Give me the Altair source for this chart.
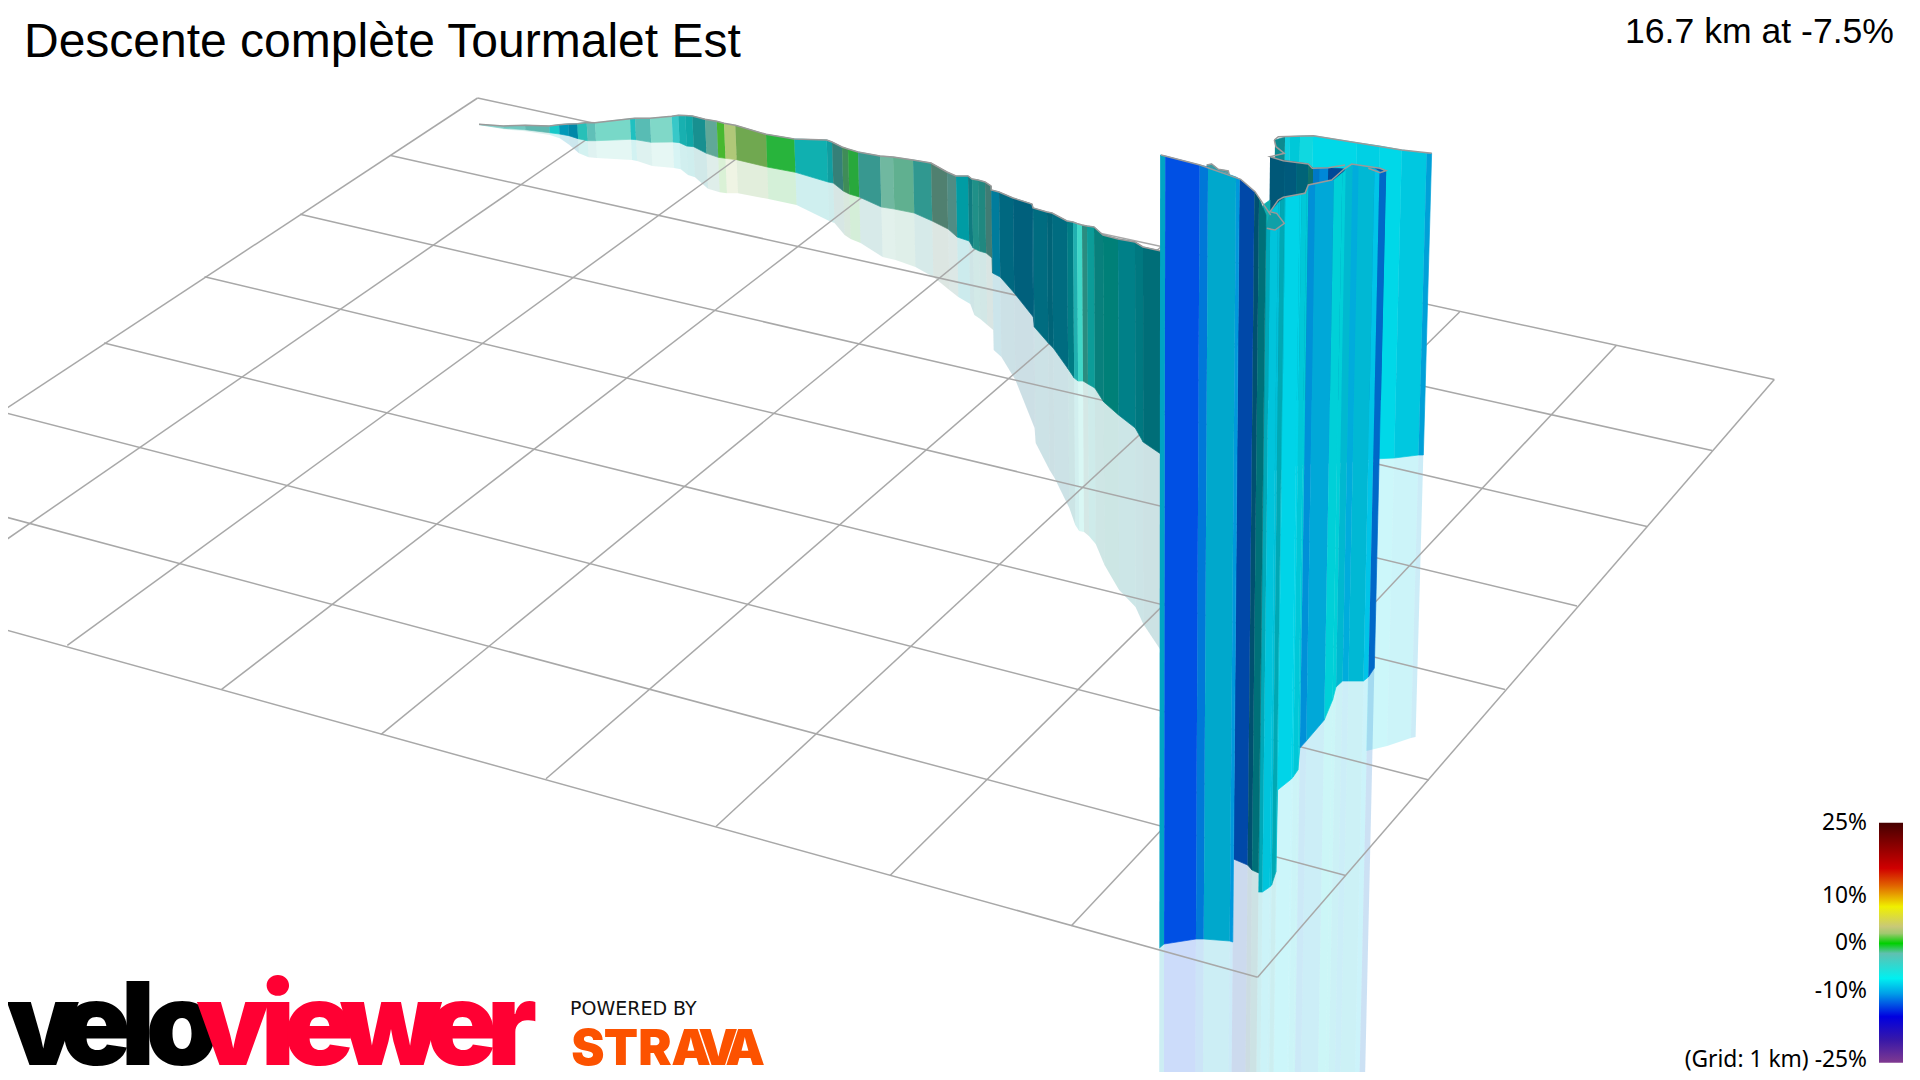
import altair as alt
import pandas as pd

# screen-space readings (px in the 1920x1080 frame)
GRID_X1 = [477.6, 390.6, 300, 204.5, 104, 0, 0, 0, 477.6, 606, 67.3, 221.6, 380.8, 546, 716, 890, 1071.4, 1257.6]
GRID_Y1 = [98, 155.5, 214.3, 276.7, 342.9, 411.4, 515.5, 628.2, 98, 126, 645.3, 689.4, 734.7, 778.8, 826.5, 875.5, 925.7, 977.2]
GRID_X2 = [1774.3, 1712, 1647, 1577, 1505, 1429, 1345.7, 1257.6, 0, 0, 741, 878, 1016, 1162, 1309, 1459.6, 1616.5, 1774.3]
GRID_Y2 = [379.6, 450.6, 526.5, 606, 689.4, 780, 875.5, 977.2, 412.6, 544, 155.5, 185, 215.5, 246, 278, 312, 345.3, 379.6]

FAR_X = [479, 503.3, 525, 549.3, 559, 568.3, 577.3, 586.7, 595, 630, 635, 650, 671.7, 678.3, 685.3, 692.3, 705, 716.7, 724, 735.3, 766, 794.3,
         826.7, 832, 842, 848, 858, 880, 893, 913, 931, 947, 956, 968, 972, 978, 985, 991, 991.2, 999, 1013, 1032, 1033, 1047, 1052, 1067, 1073, 1077, 1082, 1087, 1094, 1103, 1118, 1135, 1143, 1161]
FAR_TOP = [124.3, 126, 125.3, 126, 124.7, 124, 123.7, 122.5, 122.7, 118.7, 118.3, 118.3, 116.3, 115.3, 115.5, 116, 119.3, 121.3, 123.3, 125.3, 134.3, 139,
           140, 142, 147, 149, 152, 156, 157, 160, 163, 172, 176, 176, 179, 180, 182, 186, 190, 192, 198, 204, 208, 212, 213, 221, 222, 223.5, 225, 226, 227, 235, 239, 242, 247, 251]
FAR_BOT = [124.7, 128.3, 129.7, 132.7, 134, 135.7, 138.7, 140.7, 140.7, 139.3, 139.7, 142.3, 142, 142.7, 146, 146.7, 153.3, 157.3, 158.3, 159.7, 167, 172.3,
           182, 183, 191, 194, 197, 207, 209, 213, 221, 229, 237, 241, 248, 251, 253, 258, 273, 277, 293, 317, 327, 343, 348, 369, 378, 381, 381, 384, 388, 402, 415, 428, 442, 454]
FAR_REF = [124.7, 129.3, 131.3, 135, 138.3, 145, 153.3, 157.3, 158, 160, 161, 166, 168, 169.3, 175, 177.3, 188.7, 192.3, 193.3, 193.3, 199, 205,
           221, 223, 235, 239, 243, 257, 260, 267, 277, 290, 297, 304, 315, 319, 325, 330, 350, 357, 380, 428, 443, 470, 478, 508, 525, 531, 532, 536, 544, 565, 590, 607, 624, 650]
FAR_COL = ["#7fd0c8", "#70c8c0", "#5fb8b0", "#18c8c8", "#0098b8", "#0088a8", "#28c0b8", "#60c0b8", "#78d8c8", "#20c0c0", "#58bcb4", "#80d8c8", "#38c8c8", "#18b0b0", "#10a8a8", "#189090", "#60a898", "#48b830", "#b0c878", "#70a850", "#28b43c",
           "#10b0b0", "#109ea0", "#358078", "#3f8c58", "#28a83c", "#389890", "#70b8a0", "#60b090", "#309890", "#508070", "#508c84", "#009ca4", "#107c80", "#209088", "#208880", "#407c74", "#407c74",
           "#007c9c", "#006880", "#00607c", "#00607c", "#006c80", "#006478", "#006c80", "#007c84", "#20b0b0", "#40d8c8", "#2a8c80", "#0c9c98", "#08807c", "#008078", "#008088", "#007880", "#006e78"]

BACK_X = [1275, 1285, 1290, 1300, 1313, 1357, 1380, 1402, 1427, 1432]
BACK_TOP = [140, 137, 136.5, 136, 135.7, 142.7, 146, 150, 153.3, 153.3]
BACK_BOT = [470, 470, 468, 466, 464, 462, 459, 458, 455, 455]
BACK_COL = ["#0d8a90", "#10cfe0", "#00c8d8", "#10d8e0", "#00d8e8", "#00d0e4", "#00d8e8", "#00c8e0", "#00a0d8"]
# only the part of the back wall right of the middle wall shows a mirror image
BACK_MIRROR_X = [1380, 1402, 1427, 1432]
BACK_MIRROR_TOP = [146, 150, 153.3, 153.3]
BACK_MIRROR_BOT = [459, 458, 455, 455]
BACK_MIRROR_REF = [751, 746, 738, 737]
BACK_MIRROR_COL = ["#00d8e8", "#00c8e0", "#00a0d8"]

INNER_X = [1270, 1285, 1296.7, 1308.3, 1313.3, 1320, 1328.3, 1345, 1368, 1380, 1386]
INNER_TOP = [156.7, 160.7, 162.3, 164, 168.3, 168, 167.7, 169, 168.3, 168.3, 170.7]
INNER_BOT = [400, 400, 400, 400, 400, 400, 400, 400, 400, 400, 400]
INNER_COL = ["#005878", "#005a7c", "#006478", "#107068", "#0078c8", "#0088d8", "#004898", "#00b8d4", "#0058b0", "#0058b0"]

MID_X = [1265, 1269.3, 1277, 1279, 1283.3, 1284, 1298.3, 1300, 1305, 1306.7, 1313.3, 1331.7, 1340, 1343.3, 1350, 1356, 1371.7, 1376.7, 1382.7]
MID_TOP = [228.3, 212, 203, 201, 198, 197.5, 194.7, 194, 192, 185.7, 184, 180, 173, 170, 164.3, 165.3, 168.7, 171.7, 172.3]
MID_BOT = [892, 892, 887, 885, 872, 790, 779, 777, 770, 748, 741, 720, 700, 687, 681, 681, 681, 677, 668]
MID_COL = ["#00a8b8", "#00c4dc", "#00c0d8", "#00a8b4", "#00c0d0", "#00d4e8", "#00d4e8", "#00c8d8", "#00c8d8", "#0090d8", "#00a8d8", "#00d0d8", "#00d0d8", "#00b8d0", "#00acdc", "#00b8d4", "#00c4e8", "#0068c8"]

FRONT_X = [1160, 1165, 1199, 1207.3, 1235, 1238.3]
FRONT_TOP = [155, 156, 165, 167, 177, 179]
FRONT_BOT = [948, 944, 939, 939, 941, 942]
FRONT_COL = ["#00a4c4", "#0050e4", "#0078d8", "#00a8cc", "#0098dc"]
CORNER_X = [1238.3, 1253.3, 1258, 1265]
CORNER_TOP = [179, 192, 198, 215]
CORNER_BOT = [859, 865, 870, 873]
CORNER_COL = ["#0048a8", "#005070", "#007078"]

SMALL_X = [1263, 1270]
SMALL_TOP = [205, 200]
SMALL_BOT = [250, 250]
SMALL_COL = ["#10b0b0"]

HOOK_X = [1266, 1275, 1284.3, 1276.7, 1270]
HOOK_Y = [228.3, 230, 223.3, 213.3, 211.7]
HOOK_COL = "#0fa0a8"
BUMP_X = [1206.7, 1211.7, 1218.3, 1228.3, 1229, 1206.7]
BUMP_Y = [165, 164, 169.3, 171, 174, 168]
BUMP_COL = "#3a9aa0"

LINE_BACK_X = [1274.3, 1278.3, 1313.3, 1356.7, 1401.7, 1431.7]
LINE_BACK_Y = [140, 136.7, 135.7, 142.7, 150, 153.3]
LINE_INNER_X = [1274.3, 1276, 1284.3, 1270, 1283.3, 1308.3, 1312.3, 1328.3, 1345]
LINE_INNER_Y = [140, 146.7, 153.3, 156.7, 160.7, 164, 168.3, 167.7, 165]
LINE_MID_X = [1266.7, 1275, 1284.3, 1276.7, 1270, 1278.3, 1283.3, 1305, 1308.3, 1331.7, 1345, 1351.7, 1380, 1386, 1380, 1368.3]
LINE_MID_Y = [228.3, 230, 223.3, 213.3, 211.7, 200, 197.3, 193.3, 185, 180, 168.3, 164, 168.3, 170.7, 172.7, 168.3]
LINE_FRONT_X = [1161, 1200, 1240.7, 1255, 1265, 1270.7]
LINE_FRONT_Y = [155, 165, 179.3, 191.7, 206.7, 215]

LEGEND_STOPS = [68, 205, 255, 320, 380, 400, 430, 460, 535, 580, 650, 720, 788]
LEGEND_COLS = ["#450000", "#d00000", "#e06000", "#f0f000", "#c8c878", "#a0c870", "#00d000", "#60c0b0", "#00f0f0", "#00a0e8", "#0000e0", "#3818a8", "#803a90"]
LEGEND_TEXT = ["25%", "10%", "0%", "-10%", "(Grid: 1 km) -25%"]
LEGEND_Y = [823, 896, 943, 991, 1060]

TITLE = "Descente complète Tourmalet Est"
SUBTITLE = "16.7 km at -7.5%"

LOGO = list("veloviewer")
LOGO_X = [43, 96, 138, 182, 233, 278, 319, 391, 462, 512]
LOGO_COL = ["#000000"] * 4 + ["#ff0033"] * 6
STRAVA = list("STRAVA")
STRAVA_X = [588, 621, 655, 691, 718, 745]

LEAN = -9.75e-5
BOTTOM = 1095


def lean(x, y_from, y_to):
    return x + (x - 1150) * LEAN * (y_to - y_from)


polys_counter = [0]


def quad_rows(x0, y0a, y0b, x1, y1a, y1b, col, ref0, ref1):
    polys_counter[0] += 1
    pid = polys_counter[0]
    pts = [(lean(x0, ref0, y0a), y0a), (lean(x1, ref1, y1a), y1a), (lean(x1, ref1, y1b), y1b), (lean(x0, ref0, y0b), y0b)]
    return [{"px": p[0], "py": p[1], "pid": pid, "o": i, "col": col} for i, p in enumerate(pts)]


def ribbon(xs, tops, bots, cols, yref=None):
    rows = []
    for i, c in enumerate(cols):
        r0 = tops[i] if yref is None else yref
        r1 = tops[i + 1] if yref is None else yref
        rows += quad_rows(xs[i], tops[i], bots[i], xs[i + 1], tops[i + 1], bots[i + 1], c, r0, r1)
    return rows


def mirror(xs, tops, bots, refs, cols, yref=None):
    rows = []
    for i, c in enumerate(cols):
        r0 = tops[i] if yref is None else yref
        r1 = tops[i + 1] if yref is None else yref
        rows += quad_rows(xs[i], bots[i], refs[i], xs[i + 1], bots[i + 1], refs[i + 1], c, r0, r1)
    return rows


def polygon(xs, ys, col):
    polys_counter[0] += 1
    return [{"px": x, "py": y, "pid": polys_counter[0], "o": i, "col": col} for i, (x, y) in enumerate(zip(xs, ys))]


X = alt.X("px:Q", scale=alt.Scale(domain=[8, 1912], nice=False, zero=False), axis=None)
Y = alt.Y("py:Q", scale=alt.Scale(domain=[8, 1072], reverse=True, nice=False, zero=False), axis=None)


def wall_layer(rows):
    return alt.Chart(pd.DataFrame(rows)).mark_line(filled=True, strokeWidth=0.7, clip=True, interpolate="linear").encode(
        x=X, y=Y, order=alt.Order("o:Q"), detail="pid:N",
        fill=alt.Fill("col:N", scale=None, legend=None), stroke=alt.Stroke("col:N", scale=None, legend=None))


def mirror_layer(rows):
    return alt.Chart(pd.DataFrame(rows)).mark_line(filled=True, strokeWidth=0, fillOpacity=0.2, clip=True, interpolate="linear").encode(
        x=X, y=Y, order=alt.Order("o:Q"), detail="pid:N",
        fill=alt.Fill("col:N", scale=None, legend=None))


def outline(xs, ys):
    df = pd.DataFrame({"px": xs, "py": ys, "o": range(len(xs))})
    return alt.Chart(df).mark_line(color="#9a9a9a", strokeWidth=1.5, clip=True).encode(x=X, y=Y, order=alt.Order("o:Q"))


# mirrored parts, below the grid
mirror_rows = mirror(FAR_X, FAR_TOP, FAR_BOT, FAR_REF, FAR_COL)
mirror_rows += mirror(BACK_MIRROR_X, BACK_MIRROR_TOP, BACK_MIRROR_BOT, BACK_MIRROR_REF, BACK_MIRROR_COL, 140)
mirror_rows += mirror(MID_X, MID_TOP, MID_BOT, [BOTTOM] * len(MID_X), MID_COL, 300)
mirror_rows += mirror(CORNER_X, CORNER_TOP, CORNER_BOT, [BOTTOM] * 4, CORNER_COL, 300)
mirror_rows += mirror(FRONT_X, FRONT_TOP, FRONT_BOT, [BOTTOM] * 6, FRONT_COL, 300)

grid_df = pd.DataFrame({"px": GRID_X1, "py": GRID_Y1, "px2": GRID_X2, "py2": GRID_Y2})
grid = alt.Chart(grid_df).mark_rule(color="#a8a8a8", strokeWidth=1.5, clip=True).encode(
    x=X, y=Y, x2="px2:Q", y2="py2:Q")

far = wall_layer(ribbon(FAR_X, FAR_TOP, FAR_BOT, FAR_COL))
back = wall_layer(ribbon(BACK_X, BACK_TOP, BACK_BOT, BACK_COL, 140))
inner = wall_layer(ribbon(INNER_X, INNER_TOP, INNER_BOT, INNER_COL, 160))
small = wall_layer(ribbon(SMALL_X, SMALL_TOP, SMALL_BOT, SMALL_COL))
bump = wall_layer(polygon(BUMP_X, BUMP_Y, BUMP_COL))
mid = wall_layer(ribbon(MID_X, MID_TOP, MID_BOT, MID_COL, 300))
hook = wall_layer(polygon(HOOK_X, HOOK_Y, HOOK_COL))
corner = wall_layer(ribbon(CORNER_X, CORNER_TOP, CORNER_BOT, CORNER_COL, 300))
front = wall_layer(ribbon(FRONT_X, FRONT_TOP, FRONT_BOT, FRONT_COL, 300))

# legend
stops = [alt.GradientStop(offset=(s - LEGEND_STOPS[0]) / (LEGEND_STOPS[-1] - LEGEND_STOPS[0]), color=c)
         for s, c in zip(LEGEND_STOPS, LEGEND_COLS)]
bar = alt.Chart(pd.DataFrame({"px": [1879], "px2": [1903], "py": [822.7], "py2": [1062.7]})).mark_rect(
    fill=alt.LinearGradient(gradient="linear", stops=stops, x1=0, x2=0, y1=0, y2=1)).encode(
    x=X, x2="px2:Q", y=Y, y2="py2:Q")
legend_text = alt.Chart(pd.DataFrame({"t": LEGEND_TEXT, "px": [1867] * 5, "py": LEGEND_Y})).mark_text(
    align="right", baseline="middle", font="Noto Sans", fontSize=22.8, color="#000000").encode(x=X, y=Y, text="t:N")

title = alt.Chart(pd.DataFrame({"t": [TITLE], "px": [24], "py": [57]})).mark_text(
    align="left", baseline="alphabetic", font="Liberation Sans", fontSize=48, color="#000000").encode(x=X, y=Y, text="t:N")
subtitle = alt.Chart(pd.DataFrame({"t": [SUBTITLE], "px": [1894], "py": [43]})).mark_text(
    align="right", baseline="alphabetic", font="Liberation Sans", fontSize=35.6, color="#000000").encode(x=X, y=Y, text="t:N")

logo = alt.Chart(pd.DataFrame({"t": LOGO, "px": LOGO_X, "py": [1065] * 10, "c": LOGO_COL, "i": range(10)})).mark_text(
    align="center", baseline="alphabetic", font="Inter", fontSize=116, fontWeight=900).encode(
    x=X, y=Y, text="t:N", detail="i:N", color=alt.Color("c:N", scale=None, legend=None))
powered = alt.Chart(pd.DataFrame({"t": ["POWERED BY"], "px": [570], "py": [1015]})).mark_text(
    align="left", baseline="alphabetic", font="DejaVu Sans", fontSize=19, color="#111111").encode(x=X, y=Y, text="t:N")
strava = alt.Chart(pd.DataFrame({"t": STRAVA, "px": STRAVA_X, "py": [1065] * 6, "i": range(6)})).mark_text(
    align="center", baseline="alphabetic", font="Inter", fontSize=50, fontWeight=900, color="#fc5200").encode(
    x=X, y=Y, text="t:N", detail="i:N")

chart = alt.layer(
    mirror_layer(mirror_rows), grid, far, back, inner, small, bump, outline(FAR_X, FAR_TOP),
    outline(LINE_BACK_X, LINE_BACK_Y), outline(LINE_INNER_X, LINE_INNER_Y),
    outline(BUMP_X, BUMP_Y), mid, hook, outline(LINE_MID_X, LINE_MID_Y), corner, front,
    outline(LINE_FRONT_X, LINE_FRONT_Y), bar, legend_text, title, subtitle, logo, powered, strava
).properties(width=1904, height=1064, padding=0, autosize=alt.AutoSizeParams(type="none"), background="#ffffff"
).configure_view(stroke=None)

chart.save("out.html", embed_options={"renderer": "svg", "actions": False})
